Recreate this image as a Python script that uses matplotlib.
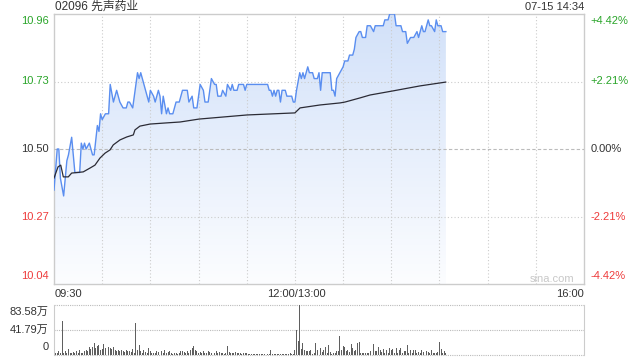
import matplotlib
matplotlib.use("Agg")
import matplotlib.pyplot as plt
import numpy as np
from matplotlib.patches import Polygon

plt.rcParams['font.family'] = ['Liberation Sans', 'Noto Sans CJK SC', 'DejaVu Sans']

title = "02096 先声药业"
stamp = "07-15 14:34"
prev_close = 10.50
y_ticks = [10.96, 10.73, 10.50, 10.27, 10.04]
pct_labels = ["+4.42%", "+2.21%", "0.00%", "-2.21%", "-4.42%"]
x_labels = ["09:30", "12:00/13:00", "16:00"]
vol_labels = ["83.58万", "41.79万", "0"]
vol_max = 83.58

# minute offsets from 09:30 (lunch break collapsed) and prices
price_min = [0, 2, 3, 4, 6, 8, 9, 11, 12, 13, 16, 17, 18, 19, 20, 22, 24, 25, 27, 28,
             29, 30, 32, 34, 35, 37, 39, 41, 43, 45, 46, 47, 49, 50, 52, 53, 54, 57, 59, 60,
             62, 63, 65, 66, 67, 68, 70, 71, 72, 74, 76, 78, 80, 83, 84, 86, 87, 89, 91, 93,
             94, 96, 98, 100, 101, 102, 104, 105, 107, 108, 110, 111, 112, 114, 115, 118, 119, 120, 133, 134,
             135, 136, 137, 138, 139, 140, 141, 142, 144, 145, 146, 148, 149, 150, 151, 153, 154, 155, 156, 158,
             159, 161, 162, 164, 165, 166, 167, 172, 173, 174, 175, 176, 178, 180, 181, 183, 184, 186, 187, 188,
             190, 191, 192, 194, 195, 197, 199, 200, 205, 206, 208, 209, 212, 213, 216, 217, 219, 220, 222, 223,
             224, 226, 227, 229, 230, 231, 232, 233, 234, 235, 237, 238, 239, 241, 242, 244]
price_val = [10.36, 10.50, 10.50, 10.40, 10.34, 10.46, 10.48, 10.54, 10.48, 10.42, 10.42, 10.52, 10.50, 10.52, 10.50, 10.52, 10.48, 10.48, 10.58, 10.56,
             10.62, 10.60, 10.62, 10.62, 10.72, 10.66, 10.70, 10.66, 10.64, 10.64, 10.66, 10.66, 10.64, 10.68, 10.76, 10.74, 10.76, 10.70, 10.66, 10.70,
             10.68, 10.66, 10.70, 10.68, 10.62, 10.68, 10.62, 10.64, 10.62, 10.62, 10.66, 10.66, 10.70, 10.70, 10.66, 10.68, 10.64, 10.64, 10.72, 10.70,
             10.66, 10.66, 10.74, 10.72, 10.72, 10.68, 10.68, 10.70, 10.68, 10.72, 10.70, 10.72, 10.70, 10.70, 10.72, 10.72, 10.70, 10.72, 10.72, 10.70,
             10.70, 10.68, 10.70, 10.68, 10.70, 10.70, 10.66, 10.70, 10.70, 10.68, 10.68, 10.68, 10.66, 10.66, 10.70, 10.76, 10.74, 10.76, 10.74, 10.78,
             10.76, 10.76, 10.74, 10.74, 10.76, 10.70, 10.76, 10.76, 10.70, 10.70, 10.68, 10.74, 10.76, 10.78, 10.80, 10.80, 10.82, 10.82, 10.84, 10.88,
             10.90, 10.90, 10.88, 10.88, 10.92, 10.92, 10.90, 10.92, 10.92, 10.94, 10.94, 10.96, 10.96, 10.92, 10.92, 10.90, 10.90, 10.86, 10.88, 10.88,
             10.88, 10.90, 10.88, 10.92, 10.90, 10.90, 10.92, 10.94, 10.92, 10.92, 10.90, 10.94, 10.92, 10.92, 10.90, 10.90]

avg_min = [0, 2.5, 4.2, 5.8, 8.9, 11, 18.2, 22.4, 25.5, 28.6, 31.8, 34.9, 36.9, 41.1, 45.3, 49.4, 50.4, 53.5,
           59.8, 70.2, 78.5, 90.3, 120.2, 150, 153.2, 165.6, 178.1, 181.2, 190.5, 196.8, 211.1, 227.9, 243.9]
avg_val = [10.401, 10.439, 10.445, 10.405, 10.405, 10.418, 10.422, 10.435, 10.445, 10.469, 10.486, 10.497, 10.514,
           10.531, 10.541, 10.548, 10.565, 10.578, 10.585, 10.589, 10.592, 10.602, 10.616, 10.623, 10.640, 10.650,
           10.657, 10.660, 10.674, 10.684, 10.698, 10.715, 10.728]

# volume per minute (万)
volume = [5, 3, 4, 6, 4, 57, 3, 6, 4, 10, 3,
          4, 5, 3, 6, 4, 8, 3, 4, 6, 9,
          7, 14, 10, 13, 20, 11, 15, 16, 8, 10,
          18, 12, 9, 14, 12, 10, 13, 9, 7, 8,
          6, 9, 7, 5, 8, 6, 7, 5, 10, 4,
          54, 8, 17, 6, 4, 8, 5, 3, 11, 6,
          4, 3, 4, 6, 5, 15, 7, 4, 8, 3,
          5, 6, 3, 2, 4, 3, 2, 3, 7, 7,
          5, 4, 6, 3, 8, 12, 15, 9, 6, 4,
          5, 3, 6, 4, 3, 6, 5, 3, 8, 4,
          6, 3, 5, 4, 3, 2, 4, 15, 5, 3,
          4, 3, 5, 3, 4, 3, 2, 3, 4, 3,
          2, 2, 2, 1, 2, 2, 1, 2, 1, 2,
          2, 1, 2, 2, 8, 2, 1, 2, 1, 2,
          1, 2, 1, 2, 1, 2, 3, 2, 2,
          8, 42, 24, 83.58, 10, 20, 8, 7, 6, 7, 9,
          2, 3, 20, 8, 6, 12, 5, 8, 14, 4,
          17, 5, 2, 3, 4, 6, 7, 32, 8, 15,
          14, 6, 8, 5, 18, 12, 6, 8, 20, 22,
          4, 3, 3, 4, 3, 4, 6, 4, 18, 6,
          6, 13, 8, 5, 10, 4, 8, 3, 12, 8,
          10, 3, 11, 4, 8, 12, 4, 6, 7, 16,
          3, 8, 4, 8, 9, 4, 5, 3, 8, 5,
          3, 7, 5, 4, 8, 4, 3, 4, 5, 22,
          10, 3, 6, 4]

TOTAL = 330
GREEN = '#2aa52a'
RED = '#ee3b3b'
DARK = '#333333'
GRID = '#cccccc'
FS = 8

fig = plt.figure(figsize=(6.4, 3.6), dpi=100)
W, H = 640, 360

def frac(x0, y0, x1, y1):
    return [x0 / W, 1 - y1 / H, (x1 - x0) / W, (y1 - y0) / H]

ax = fig.add_axes(frac(54, 14, 584, 284))
ax.set_xlim(0, TOTAL)
ax.set_ylim(y_ticks[-1], y_ticks[0])
for s in ax.spines.values():
    s.set_color(GRID)
    s.set_linewidth(1)
ax.set_xticks([])
ax.set_yticks([])

# grid (above the fill)
for m in range(30, TOTAL, 30):
    ax.axvline(m, color=GRID, lw=0.8, ls=(0, (1, 2)), zorder=3)
for v in (y_ticks[1], y_ticks[3]):
    ax.axhline(v, color=GRID, lw=0.8, ls=(0, (1, 2)), zorder=3)
ax.axhline(prev_close, color='#bbbbbb', lw=0.8, ls=(0, (3, 2)), zorder=3)

# gradient fill under price
px = np.array(price_min, dtype=float)
py = np.array(price_val)
grad = np.linspace(0, 1, 256).reshape(-1, 1)
c_top = np.array([210, 225, 249]) / 255
c_bot = np.array([252, 253, 255]) / 255
img = c_top[None, None, :] * (1 - grad[:, :, None]) + c_bot[None, None, :] * grad[:, :, None]
im = ax.imshow(img, extent=[0, TOTAL, y_ticks[-1], y_ticks[0]], aspect='auto', origin='upper', zorder=2)
verts = list(zip(px, py)) + [(px[-1], y_ticks[-1]), (px[0], y_ticks[-1])]
poly = Polygon(verts, closed=True, facecolor='none', edgecolor='none', transform=ax.transData)
ax.add_patch(poly)
im.set_clip_path(poly)

ax.plot(px, py, color='#5a8ef0', lw=1.0, zorder=4)
ax.plot(avg_min, avg_val, color='#2b2b35', lw=0.9, zorder=4)

# y labels
colors = [GREEN, GREEN, DARK, RED, RED]
vas = ['top', 'center', 'center', 'center', 'bottom']
for v, lab, c, va in zip(y_ticks, pct_labels, colors, vas):
    off = -1.5 if va == 'top' else (2 if va == 'bottom' else 0)
    ax.annotate(f"{v:.2f}", xy=(0, v), xycoords='data', xytext=(-4, off), textcoords='offset points',
                ha='right', va=va, color=c, fontsize=FS)
    ax.annotate(lab, xy=(TOTAL, v), xycoords='data', xytext=(4.5, off), textcoords='offset points',
                ha='left', va=va, color=c, fontsize=FS)

# x labels
fig.text(55 / W, 1 - 294 / H, x_labels[0], ha='left', va='center', fontsize=FS, color=DARK)
fig.text(296 / W, 1 - 294 / H, x_labels[1], ha='center', va='center', fontsize=FS, color=DARK)
fig.text(584 / W, 1 - 294 / H, x_labels[2], ha='right', va='center', fontsize=FS, color=DARK)

fig.text(55 / W, 1 - 7 / H, title, ha='left', va='center', fontsize=8.5, color=DARK)
fig.text(584 / W, 1 - 7 / H, stamp, ha='right', va='center', fontsize=FS, color=DARK)
fig.text(574 / W, 1 - 279 / H, "sina.com", ha='right', va='center', fontsize=FS, color='#c8c8c8')

# volume
vx = fig.add_axes(frac(54, 305, 584, 355))
vx.set_xlim(0, TOTAL)
vx.set_ylim(0, vol_max)
vx.bar(np.arange(len(volume)), volume, width=0.6, color='#5f5f5f', zorder=3)
for s in ('top', 'bottom'):
    vx.spines[s].set_visible(False)
for s in ('left', 'right'):
    vx.spines[s].set_color(GRID)
vx.set_xticks([])
vx.set_yticks([])
for v in (0, vol_max / 2, vol_max):
    vx.axhline(v, color='#bbbbbb', lw=0.8, ls=(0, (1, 1)), zorder=1, clip_on=False)
vas = ['top', 'center', 'bottom']
for v, lab, va in zip([vol_max, vol_max / 2, 0], vol_labels, vas):
    off = -1.5 if va == 'top' else (2 if va == 'bottom' else 0)
    vx.annotate(lab, xy=(0, v), xycoords='data', xytext=(-4, off), textcoords='offset points',
                ha='right', va=va, color=DARK, fontsize=FS)

fig.savefig("out.png", dpi=100)
